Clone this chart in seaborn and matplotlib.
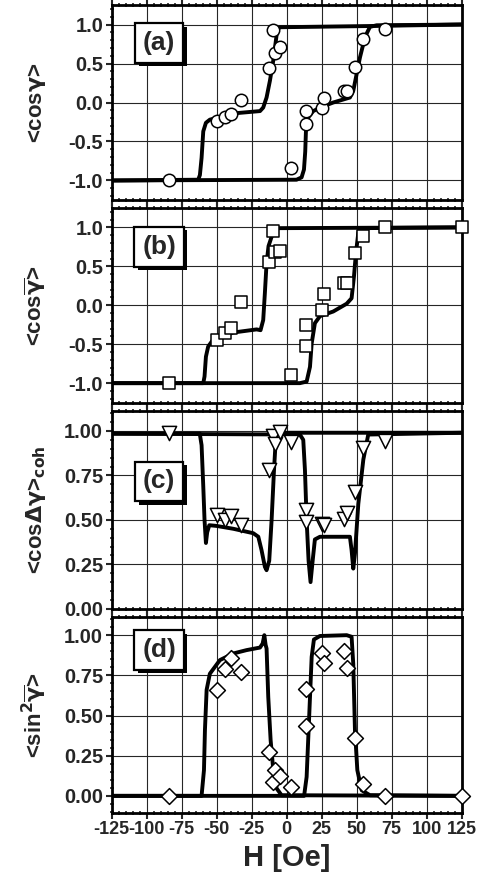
import numpy as np
import pandas as pd
import matplotlib
matplotlib.use("Agg")
import matplotlib.pyplot as plt
import matplotlib.patheffects as pe
from matplotlib.ticker import MultipleLocator
import seaborn as sns

# =============================================
# DATA
# =============================================
# measured field values shared by the four panels
h_pts = [-84, -49.5, -43.8, -40, -32.9, -12.4, -10, -8, -4.6, 3.3,
         14, 14, 25.5, 27, 40.8, 43, 49, 54.3, 70]

cos_a_pts = [-1.0, -0.24, -0.18, -0.15, 0.03, 0.44, 0.93, 0.63, 0.71, -0.84,
             -0.27, -0.11, -0.07, 0.06, 0.15, 0.15, 0.45, 0.81, 0.94]

h_b_pts = h_pts + [125]
cos_b_pts = [-1.0, -0.45, -0.36, -0.29, 0.04, 0.56, 0.95, 0.68, 0.70, -0.89,
             -0.25, -0.52, -0.06, 0.14, 0.29, 0.29, 0.67, 0.89, 1.0, 1.0]

cohc_pts = [0.99, 0.53, 0.50, 0.52, 0.47, 0.78, 0.97, 0.925, 0.995, 0.94,
            0.557, 0.49, 0.477, 0.47, 0.504, 0.538, 0.655, 0.904, 0.943]

h_d_pts = h_pts + [125]
sin2_pts = [0.0, 0.66, 0.79, 0.855, 0.77, 0.27, 0.087, 0.16, 0.124, 0.056,
            0.666, 0.436, 0.89, 0.824, 0.902, 0.793, 0.361, 0.073, 0.0, 0.0]

# simulated curves: two branches per panel (vertices)
a1_h = [-125, -63.1, -61.9, -60.7, -59.5, -57.6, -54.8, -38.1, -19, -16.7,
        -14.3, -11.9, -9.5, -7.6, -6.7, -4.8, 57, 125]
a1_y = [-1, -0.99, -0.93, -0.71, -0.37, -0.26, -0.22, -0.14, -0.11, -0.065,
        0.064, 0.28, 0.54, 0.80, 0.93, 0.965, 0.98, 1.0]
a2_h = [-125, 7.1, 10.7, 12.4, 13.3, 13.8, 15.5, 19, 25, 33.3, 45.2, 47.6,
        49.5, 52.4, 56, 59.5, 64.3, 125]
a2_y = [-1, -0.99, -0.96, -0.86, -0.63, -0.37, -0.19, -0.11, -0.057, 0.0,
        0.064, 0.15, 0.32, 0.58, 0.84, 0.97, 0.99, 1.0]

b1_h = [-125, -59.5, -58.6, -57.6, -56, -52.4, -38.1, -21.4, -18.6, -16.7,
        -15.5, -14.3, -12.9, -10.7, -7.1, 125]
b1_y = [-1, -1, -0.915, -0.66, -0.53, -0.44, -0.35, -0.31, -0.32, -0.19,
        0.16, 0.54, 0.76, 0.88, 0.99, 1.0]
b2_h = [-125, 9.5, 14.3, 16.7, 17.9, 20.2, 23.8, 33.3, 42.9, 46.4, 48.1,
        49.5, 51.2, 52.4, 125]
b2_y = [-1, -1, -0.98, -0.79, -0.49, -0.23, -0.14, -0.08, 0.02, 0.09, 0.37,
        0.67, 0.93, 0.99, 1.0]

c1_h = [-125, -62, -60.7, -59.5, -58.6, -57.6, -56.7, -55.2, -50, -38.1,
        -23.8, -20.2, -17.9, -15.5, -14.3, -12.4, -10.7, -9, -7.6, -6, 125]
c1_y = [0.985, 0.985, 0.92, 0.69, 0.50, 0.37, 0.43, 0.47, 0.466, 0.45,
        0.425, 0.405, 0.33, 0.236, 0.217, 0.27, 0.50, 0.78, 0.97, 0.99, 0.99]
c2_h = [-125, 9.5, 11.9, 13.1, 14.3, 15.7, 17.1, 18.6, 20.2, 23.8, 45.2,
        46.4, 47.6, 48.8, 51.2, 54.8, 58.3, 125]
c2_y = [0.985, 0.98, 0.95, 0.78, 0.50, 0.27, 0.15, 0.27, 0.39, 0.405, 0.405,
        0.33, 0.226, 0.31, 0.59, 0.84, 0.98, 0.99]

d1_h = [-125, -60.7, -59, -58.3, -57.1, -54.8, -47.6, -38.1, -28.6, -19,
        -17.1, -15.9, -15, -14.3, -13.1, -11.4, -9.5, -7.1, -3.6, 125]
d1_y = [0, 0, 0.16, 0.41, 0.66, 0.76, 0.845, 0.886, 0.907, 0.923, 0.948,
        1.0, 0.94, 0.917, 0.616, 0.346, 0.16, 0.046, 0.004, 0]
d2_h = [-125, 12.5, 14.3, 16.2, 17.9, 19.5, 23.8, 42.9, 46.4, 47.6, 48.8,
        50.5, 53.6, 59.5, 125]
d2_y = [0, 0, 0.118, 0.51, 0.865, 0.973, 0.995, 1.0, 0.99, 0.82, 0.41,
        0.16, 0.035, 0.004, 0]

# =============================================
# FIGURE
# =============================================
sns.set_theme(style="ticks")
plt.rcParams['font.family'] = ['Liberation Sans', 'DejaVu Sans']
plt.rcParams['font.weight'] = 'bold'
plt.rcParams['mathtext.default'] = 'bf'

fig = plt.figure(figsize=(4.87, 8.81), dpi=100)
L, W = 0.229, 0.719
boxes = [(0.773, 0.2213), (0.543, 0.221), (0.309, 0.224), (0.0775, 0.2225)]

panels = [
    dict(curves=[(a1_h, a1_y), (a2_h, a2_y)], px=h_pts, py=cos_a_pts,
         marker='o', ms=80, ylim=(-1.25, 1.25), major=0.5, minor=0.1,
         fmt='{:.1f}', ylabel=r'<cos$\gamma$>', tag='(a)', tagy=0.805),
    dict(curves=[(b1_h, b1_y), (b2_h, b2_y)], px=h_b_pts, py=cos_b_pts,
         marker='s', ms=70, ylim=(-1.25, 1.25), major=0.5, minor=0.1,
         fmt='{:.1f}', ylabel=r'<cos$\overline{\gamma}$>', tag='(b)', tagy=0.80),
    dict(curves=[(c1_h, c1_y), (c2_h, c2_y)], px=h_pts, py=cohc_pts,
         marker='v', ms=105, ylim=(0.0, 1.11), major=0.25, minor=0.05,
         fmt='{:.2f}', ylabel=r'<cos$\Delta\gamma$>$_{\mathbf{coh}}$', tag='(c)', tagy=0.645),
    dict(curves=[(d1_h, d1_y), (d2_h, d2_y)], px=h_d_pts, py=sin2_pts,
         marker='D', ms=65, ylim=(-0.105, 1.115), major=0.25, minor=0.05,
         fmt='{:.2f}', ylabel=r'<sin$^2\overline{\gamma}$>', tag='(d)', tagy=0.83),
]

for i, (p, (bot, hgt)) in enumerate(zip(panels, boxes)):
    ax = fig.add_axes([L, bot, W, hgt])
    ax.set_axisbelow(True)
    ax.grid(True, color='0.15', lw=0.8)

    for hx, hy in p['curves']:
        df = pd.DataFrame({'H': hx, 'v': hy})
        sns.lineplot(data=df, x='H', y='v', ax=ax, color='black', lw=2.8,
                     sort=False, estimator=None, zorder=3)

    pts = pd.DataFrame({'H': p['px'], 'v': p['py']})
    sns.scatterplot(data=pts, x='H', y='v', ax=ax, marker=p['marker'],
                    s=p['ms'], facecolor='white', edgecolor='black',
                    linewidth=1.1, zorder=4, clip_on=False)

    ax.set_xlim(-125, 125)
    ax.set_ylim(*p['ylim'])
    ax.xaxis.set_major_locator(MultipleLocator(25))
    ax.xaxis.set_minor_locator(MultipleLocator(5))
    ax.yaxis.set_major_locator(MultipleLocator(p['major']))
    ax.yaxis.set_minor_locator(MultipleLocator(p['minor']))
    yt = np.arange(-1.0, 1.01, p['major'])
    yt = yt[(yt >= p['ylim'][0] - 1e-9) & (yt <= p['ylim'][1] + 1e-9)]
    ax.set_yticks(yt)
    ax.set_yticklabels([p['fmt'].format(v) for v in yt])
    ax.tick_params(axis='both', which='major', direction='out', length=4,
                   width=1.5, labelsize=14.5, pad=2, top=True, right=False)
    ax.tick_params(axis='both', which='minor', direction='inout', length=3,
                   width=1.2, top=True)
    for s in ax.spines.values():
        s.set_linewidth(2)
        s.set_color('black')

    ax.set_ylabel(p['ylabel'], fontsize=16, fontweight='bold')
    ax.yaxis.set_label_coords(-0.18, 0.5)
    if i < 3:
        ax.set_xlabel('')
        ax.tick_params(labelbottom=False)
    else:
        xt = np.arange(-125, 126, 25)
        ax.set_xticks(xt)
        ax.set_xticklabels([str(v) for v in xt])
        ax.set_xlabel('H [Oe]', fontsize=21, fontweight='bold', labelpad=4)
        for lab in ax.get_xticklabels():
            lab.set_fontsize(13)

    for lab in ax.get_xticklabels() + ax.get_yticklabels():
        lab.set_fontweight('bold')

    t = ax.text(0.136, p['tagy'], p['tag'], transform=ax.transAxes,
                ha='center', va='center', fontsize=19, fontweight='bold',
                zorder=6,
                bbox=dict(boxstyle='square,pad=0.3', fc='white', ec='black', lw=1.6))
    t.get_bbox_patch().set_path_effects(
        [pe.SimplePatchShadow(offset=(2.5, -2.5), shadow_rgbFace='black', alpha=1.0),
         pe.Normal()])

fig.savefig('out.png', dpi=100)
